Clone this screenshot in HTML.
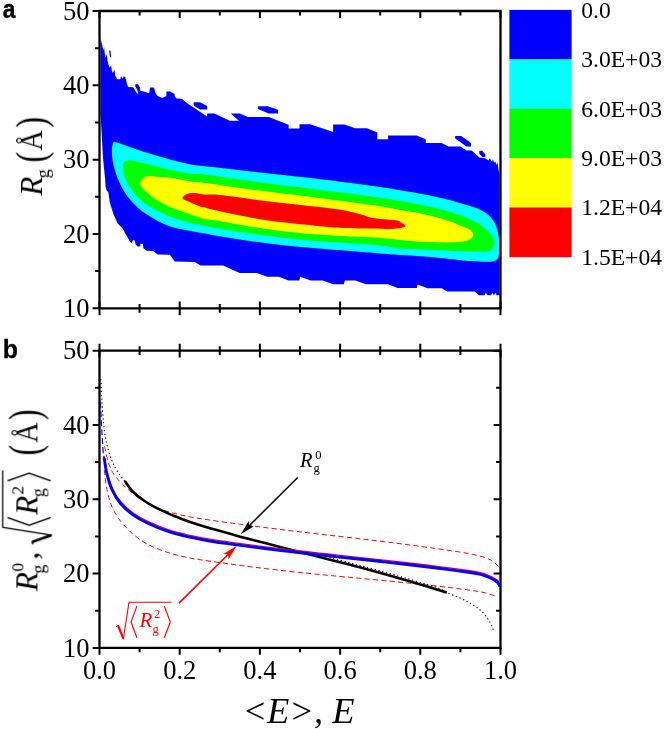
<!DOCTYPE html>
<html><head><meta charset="utf-8"><title>fig</title>
<style>
html,body{margin:0;padding:0;background:#fff;}
svg{display:block;}
text{font-family:"Liberation Serif",serif;fill:#000;}
.sans{font-family:"Liberation Sans",sans-serif;font-weight:bold;}
.it{font-style:italic;}
</style></head><body>
<svg width="664" height="729" viewBox="0 0 664 729">
<rect width="664" height="729" fill="#fff"/>

<g>
<path d="M100.5,37.5L101.2,41.0L102.4,45.8L103.3,50.5L104.1,47.0L104.9,54.5L105.7,58.0L106.8,54.1L107.5,60.5L108.4,64.5L109.6,67.5L111.2,65.6L111.8,70.5L112.8,73.0L114.5,69.4L115.2,75.5L117.2,79.3L120.3,79.3L121.1,76.0L122.7,78.7L123.8,76.0L125.4,77.6L127.1,84.2L128.2,87.0L133.1,87.3L137.5,94.1L140.2,90.8L143.8,91.5L149.2,93.3L150.0,87.5L154.0,87.5L155.6,93.3L157.4,96.0L161.9,97.8L163.0,97.8L166.4,96.0L166.4,91.5L170.0,91.5L174.6,94.0L174.6,96.0L176.4,98.4L181.8,98.7L187.2,103.2L207.1,116.4L207.1,113.5L214.5,113.5L229.8,120.7L238.9,120.7L230.7,113.5L239.8,113.5L247.9,117.1L268.7,117.1L288.6,124.8L288.6,128.5L299.5,128.5L299.5,124.3L310.3,124.3L333.1,132.0L333.1,124.4L344.4,124.4L355.2,128.3L367.0,128.3L377.3,132.5L377.3,139.2L388.1,139.2L388.1,135.6L416.7,135.6L425.7,139.2L425.7,143.0L441.6,143.1L448.4,146.6L460.5,146.6L466.5,150.4L471.7,150.4L479.3,157.4L485.3,158.2L488.3,160.5L489.8,158.2L492.1,162.0L492.8,159.0L494.3,162.7L495.1,161.2L496.6,165.0L497.4,162.0L498.9,171.7L499.5,172.0L499.5,295.3L496.6,295.3L495.5,292.7L494.0,295.3L492.2,292.7L491.1,295.3L487.8,295.3L485.6,292.7L484.5,295.3L479.0,295.3L474.6,291.6L447.2,291.6L441.7,288.3L427.4,288.3L417.6,284.4L416.8,288.1L397.6,288.1L388.0,284.2L365.9,284.2L355.3,280.4L344.8,280.4L343.8,284.2L333.2,284.2L322.7,280.4L310.6,280.6L300.0,276.7L299.5,280.6L288.5,280.6L278.9,276.7L267.4,276.7L256.8,272.9L239.6,272.9L223.2,265.6L205.0,265.6L200.6,265.4L194.8,262.1L174.7,261.5L169.9,254.8L157.7,254.4L153.1,250.9L146.4,250.7L143.3,247.9L142.8,243.8L140.4,243.8L140.2,246.4L137.6,246.4L135.6,244.3L134.5,240.2L133.0,240.2L131.4,243.3L128.9,239.7L125.3,233.5L122.7,228.4L117.5,223.2L113.4,214.0L109.8,202.6L108.3,192.3L106.5,190.3L105.5,186.0L105.2,180.0L104.2,170.0L103.0,158.0L102.0,140.0L100.5,113.0Z" fill="#0000ff"/>
<path d="M135.3,84.2L138.0,84.2L140.0,87.5L140.2,91.0L138.4,93.3L137.3,90.0L135.3,86.5Z" fill="#0000ff"/>
<path d="M109.0,50.4L110.4,50.4L111.2,57.3L110.1,57.3Z" fill="#0000ff"/>
<path d="M193.6,102.3L200.0,102.3L207.1,106.0L207.1,109.6L200.0,109.6L193.6,105.5Z" fill="#0000ff"/>
<path d="M257.9,106.2L267.8,106.2L278.1,109.8L278.1,113.5L268.7,113.5L257.9,108.9Z" fill="#0000ff"/>
<path d="M455.2,135.9L461.2,135.9L471.0,143.1L471.0,146.6L466.5,146.6L455.2,138.6Z" fill="#0000ff"/>
<path d="M479.3,150.7L482.3,150.7L485.3,154.4L485.3,157.0L482.3,157.0L479.3,153.7Z" fill="#0000ff"/>
</g>
<path d="M115.2,141.9C116.3,142.0 117.0,142.4 120.0,143.4C123.0,144.4 128.0,146.3 133.4,148.2C138.8,150.1 146.2,152.6 152.6,154.6C159.0,156.6 165.4,158.4 171.8,160.0C178.2,161.6 185.5,163.4 191.0,164.4C196.5,165.4 192.7,164.8 205.0,166.2C217.3,167.6 246.7,170.9 265.0,173.0C283.3,175.1 296.7,176.4 315.0,178.6C333.3,180.8 360.8,184.4 375.0,186.3C389.2,188.2 392.2,188.9 400.0,190.2C407.8,191.5 414.7,192.5 422.0,193.9C429.3,195.3 437.4,197.0 443.9,198.6C450.4,200.2 456.0,201.9 461.2,203.4C466.4,204.9 470.8,206.0 474.9,207.6C479.0,209.2 482.8,211.0 485.8,213.0C488.8,215.0 490.9,217.3 492.7,219.8C494.5,222.3 495.8,225.0 496.8,228.0C497.8,231.0 498.5,234.2 498.9,237.6C499.3,241.0 499.4,245.3 499.3,248.6C499.2,251.9 499.1,255.4 498.2,257.5C497.3,259.6 496.2,260.2 494.1,260.9C492.0,261.6 490.5,261.7 485.8,261.7C481.1,261.7 472.9,261.3 465.9,260.7C458.9,260.1 451.2,259.1 443.9,258.3C436.6,257.6 429.3,256.8 422.0,256.2C414.7,255.6 407.8,255.4 400.0,254.9C392.2,254.4 389.2,254.0 375.0,252.9C360.8,251.8 333.3,249.9 315.0,248.3C296.7,246.7 281.7,245.2 265.0,243.1C248.3,241.0 225.0,237.1 215.0,235.5C205.0,233.9 209.0,234.2 205.0,233.5C201.0,232.8 196.5,232.1 191.0,231.0C185.5,229.9 177.6,228.8 171.8,227.0C166.0,225.2 161.5,222.9 156.4,220.2C151.3,217.5 145.6,214.1 141.1,210.6C136.6,207.1 132.8,202.9 129.6,199.1C126.4,195.3 124.2,191.8 121.9,187.6C119.7,183.4 117.6,178.7 116.1,174.2C114.6,169.7 113.4,164.9 112.7,160.7C112.0,156.5 111.8,152.1 111.9,149.2C112.0,146.3 112.7,144.3 113.2,143.1C113.8,141.9 114.1,141.8 115.2,141.9Z" fill="#00ffff"/>
<path d="M125.7,161.1C127.4,160.4 129.6,160.1 133.4,160.7C137.2,161.3 142.4,163.0 148.8,164.6C155.2,166.2 164.8,168.8 171.8,170.3C178.8,171.8 185.5,173.1 191.0,173.8C196.5,174.5 192.7,173.1 205.0,174.6C217.3,176.1 246.7,180.6 265.0,183.0C283.3,185.4 296.7,186.9 315.0,189.2C333.3,191.5 360.8,194.9 375.0,196.9C389.2,198.9 392.2,199.6 400.0,200.9C407.8,202.2 414.7,203.4 422.0,204.9C429.3,206.4 437.4,208.4 443.9,210.2C450.4,212.0 456.0,213.8 461.2,215.7C466.4,217.6 471.0,219.3 474.9,221.4C478.8,223.5 481.8,225.8 484.5,228.0C487.2,230.2 489.7,232.6 491.3,234.9C492.9,237.2 493.9,239.5 494.1,241.7C494.3,243.9 493.9,246.4 492.7,248.0C491.5,249.6 491.7,250.7 487.2,251.3C482.7,251.9 473.1,251.5 465.9,251.4C458.7,251.3 451.2,250.8 443.9,250.5C436.6,250.2 429.3,249.8 422.0,249.4C414.7,249.1 407.8,249.2 400.0,248.4C392.2,247.7 389.2,246.1 375.0,244.9C360.8,243.7 333.3,242.6 315.0,241.0C296.7,239.4 281.7,237.6 265.0,235.4C248.3,233.2 225.0,229.5 215.0,227.9C205.0,226.3 209.0,226.6 205.0,225.8C201.0,225.0 196.5,224.5 191.0,223.1C185.5,221.7 177.6,219.5 171.8,217.4C166.0,215.3 161.2,213.2 156.4,210.6C151.6,208.0 146.8,205.0 143.0,202.0C139.2,199.0 136.1,195.8 133.4,192.4C130.7,189.0 128.4,185.2 126.7,181.8C125.0,178.4 124.0,175.1 123.4,172.2C122.9,169.3 123.0,166.4 123.4,164.6C123.8,162.8 124.0,161.8 125.7,161.1Z" fill="#00ff00"/>
<path d="M144.9,176.7C147.0,175.8 150.3,176.0 152.6,176.1C154.8,176.2 155.2,176.7 158.4,177.0C161.6,177.3 166.4,177.2 171.8,178.0C177.2,178.8 185.5,180.7 191.0,181.5C196.5,182.3 192.7,181.4 205.0,183.0C217.3,184.6 246.7,188.9 265.0,191.3C283.3,193.7 296.7,195.1 315.0,197.5C333.3,199.9 360.8,203.4 375.0,205.5C389.2,207.6 392.2,208.6 400.0,210.0C407.8,211.4 414.1,212.0 422.0,213.7C429.9,215.4 440.9,218.3 447.4,220.4C453.9,222.5 457.5,224.5 461.2,226.0C464.9,227.5 467.5,228.3 469.4,229.4C471.3,230.5 472.2,231.7 472.8,232.8C473.4,233.9 473.6,235.0 472.9,236.2C472.1,237.4 470.7,239.2 468.3,240.2C465.9,241.2 462.5,241.6 458.4,242.0C454.3,242.4 450.0,242.4 443.9,242.4C437.8,242.4 429.3,242.2 422.0,241.8C414.7,241.4 407.8,240.7 400.0,240.0C392.2,239.3 389.2,238.5 375.0,237.6C360.8,236.7 333.3,235.8 315.0,234.3C296.7,232.8 281.7,231.0 265.0,228.7C248.3,226.3 225.0,221.8 215.0,220.2C205.0,218.6 209.0,220.0 205.0,219.1C201.0,218.2 196.5,216.4 191.0,214.5C185.5,212.6 177.2,210.1 171.8,207.8C166.4,205.6 162.6,203.6 158.4,201.0C154.2,198.4 149.9,195.1 146.8,192.4C143.8,189.7 141.2,186.5 140.1,184.7C139.0,182.9 139.3,183.1 140.1,181.8C140.9,180.5 142.8,177.6 144.9,176.7Z" fill="#ffff00"/>
<path d="M182.4,198.2C182.4,197.0 185.1,194.6 187.2,193.7C189.3,192.8 191.8,192.9 194.8,193.0C197.8,193.1 201.6,194.2 205.0,194.5C208.4,194.8 209.2,194.1 215.0,194.6C220.8,195.1 231.7,196.4 240.0,197.5C248.3,198.6 252.5,199.4 265.0,200.9C277.5,202.4 301.9,204.9 315.0,206.5C328.1,208.1 335.8,208.9 343.8,210.3C351.8,211.7 358.2,213.8 363.0,215.1C367.8,216.4 367.2,217.1 372.6,218.0C378.0,218.9 390.8,219.5 395.6,220.3C400.4,221.1 399.8,221.8 401.4,222.8C403.0,223.9 406.8,225.6 405.2,226.6C403.6,227.6 397.2,228.8 391.8,229.1C386.4,229.4 380.6,228.8 372.6,228.6C364.6,228.4 353.4,228.5 343.8,228.0C334.2,227.5 328.1,227.0 315.0,225.7C301.9,224.4 281.7,222.7 265.0,220.1C248.3,217.5 225.0,212.4 215.0,210.3C205.0,208.2 207.4,208.2 205.0,207.6C202.6,207.0 203.6,207.9 200.6,206.8C197.6,205.7 190.2,202.4 187.2,201.0C184.2,199.6 182.4,199.4 182.4,198.2Z" fill="#ff0000"/>
<g stroke="#000" stroke-width="2.3" fill="none" stroke-linecap="butt">
<path d="M98.3,11.0H501.6 M98.3,308.3H501.6 M99.5,11.0V308.3 M500.5,11.0V308.3"/>
<path d="M99.5,11.0v6.9M99.5,301.4v13.8M139.6,11.0v4.4M139.6,303.9v8.8M179.7,11.0v6.9M179.7,301.4v13.8M219.8,11.0v4.4M219.8,303.9v8.8M259.9,11.0v6.9M259.9,301.4v13.8M300.0,11.0v4.4M300.0,303.9v8.8M340.1,11.0v6.9M340.1,301.4v13.8M380.2,11.0v4.4M380.2,303.9v8.8M420.3,11.0v6.9M420.3,301.4v13.8M460.4,11.0v4.4M460.4,303.9v8.8M500.5,11.0v6.9M500.5,301.4v13.8M99.5,308.3h-6.9M99.5,271.1h-4.4M99.5,234.0h-6.9M99.5,196.8h-4.4M99.5,159.7h-6.9M99.5,122.5h-4.4M99.5,85.3h-6.9M99.5,48.2h-4.4M99.5,11.0h-6.9" stroke-width="2"/>
<path d="M98.3,350.7H501.6 M98.3,647.9H501.6 M99.5,350.7V647.9 M500.5,350.7V647.9"/>
<path d="M99.5,343.8v13.8M99.5,647.9v6.9M139.6,346.3v8.8M139.6,647.9v4.4M179.7,343.8v13.8M179.7,647.9v6.9M219.8,346.3v8.8M219.8,647.9v4.4M259.9,343.8v13.8M259.9,647.9v6.9M300.0,346.3v8.8M300.0,647.9v4.4M340.1,343.8v13.8M340.1,647.9v6.9M380.2,346.3v8.8M380.2,647.9v4.4M420.3,343.8v13.8M420.3,647.9v6.9M460.4,346.3v8.8M460.4,647.9v4.4M500.5,343.8v13.8M500.5,647.9v6.9M99.5,647.9h-6.9M500.5,647.9h-6.9M99.5,610.8h-4.4M500.5,610.8h-4.4M99.5,573.6h-6.9M500.5,573.6h-6.9M99.5,536.4h-4.4M500.5,536.4h-4.4M99.5,499.3h-6.9M500.5,499.3h-6.9M99.5,462.1h-4.4M500.5,462.1h-4.4M99.5,425.0h-6.9M500.5,425.0h-6.9M99.5,387.8h-4.4M500.5,387.8h-4.4M99.5,350.7h-6.9M500.5,350.7h-6.9" stroke-width="2"/>
</g>
<rect x="509.4" y="9.9" width="62.2" height="49.7" fill="#0000ff"/>
<rect x="509.4" y="59.3" width="62.2" height="49.7" fill="#00ffff"/>
<rect x="509.4" y="108.7" width="62.2" height="49.7" fill="#00ff00"/>
<rect x="509.4" y="158.1" width="62.2" height="49.7" fill="#ffff00"/>
<rect x="509.4" y="207.5" width="62.2" height="49.7" fill="#ff0000"/>
<g opacity="0.999">
<text x="581.2" y="17.8" font-size="23.6">0.0</text>
<text x="581.2" y="67.2" font-size="23.6">3.0E+03</text>
<text x="581.2" y="116.6" font-size="23.6">6.0E+03</text>
<text x="581.2" y="166.0" font-size="23.6">9.0E+03</text>
<text x="581.2" y="215.4" font-size="23.6">1.2E+04</text>
<text x="581.2" y="264.8" font-size="23.6">1.5E+04</text>
<text x="89.5" y="316.9" font-size="26.5" text-anchor="end">10</text>
<text x="89.5" y="656.5" font-size="26.5" text-anchor="end">10</text>
<text x="89.5" y="242.6" font-size="26.5" text-anchor="end">20</text>
<text x="89.5" y="582.2" font-size="26.5" text-anchor="end">20</text>
<text x="89.5" y="168.2" font-size="26.5" text-anchor="end">30</text>
<text x="89.5" y="507.9" font-size="26.5" text-anchor="end">30</text>
<text x="89.5" y="93.9" font-size="26.5" text-anchor="end">40</text>
<text x="89.5" y="433.6" font-size="26.5" text-anchor="end">40</text>
<text x="89.5" y="19.6" font-size="26.5" text-anchor="end">50</text>
<text x="89.5" y="359.3" font-size="26.5" text-anchor="end">50</text>
<text x="99.5" y="679" font-size="26.5" text-anchor="middle">0.0</text>
<text x="179.7" y="679" font-size="26.5" text-anchor="middle">0.2</text>
<text x="259.9" y="679" font-size="26.5" text-anchor="middle">0.4</text>
<text x="340.1" y="679" font-size="26.5" text-anchor="middle">0.6</text>
<text x="420.3" y="679" font-size="26.5" text-anchor="middle">0.8</text>
<text x="500.5" y="679" font-size="26.5" text-anchor="middle">1.0</text>
<text class="sans" transform="translate(2.8,17.7) scale(0.9,1)" font-size="25.3" stroke="#000" stroke-width="0.4">a</text>
<text class="sans" x="2.7" y="357.8" font-size="24.9" stroke="#000" stroke-width="0.3">b</text>
<text class="it" x="298.5" y="722.6" font-size="36.5" text-anchor="middle">&lt;E&gt;, E</text>
</g>
<g fill="none">
<path d="M104.6,446.4C105.1,448.7 106.7,456.4 107.7,460.0C108.7,463.6 109.5,465.6 110.5,468.0C111.5,470.4 112.0,471.8 114.0,474.5C116.0,477.2 118.5,480.5 122.4,484.2C126.3,487.9 132.3,493.4 137.2,496.9C142.1,500.4 146.6,502.8 151.9,505.3C157.2,507.8 162.5,510.0 168.8,511.9C175.2,513.8 183.0,515.5 190.0,516.9C197.0,518.3 203.5,519.1 211.0,520.2C218.5,521.3 228.5,522.7 235.0,523.6C241.5,524.5 244.7,524.9 250.0,525.6C255.3,526.3 260.7,527.0 267.0,527.8C273.3,528.6 281.0,529.5 288.0,530.4C295.0,531.2 302.0,532.1 309.0,532.9C316.0,533.7 323.0,534.5 330.0,535.3C337.0,536.1 344.7,537.0 351.0,537.7C357.3,538.4 362.2,539.0 368.0,539.7C373.8,540.4 379.5,541.1 386.0,541.9C392.5,542.7 400.0,543.7 407.0,544.6C414.0,545.5 421.0,546.4 428.0,547.4C435.0,548.4 442.0,549.3 449.0,550.4C456.0,551.5 464.0,552.6 470.0,553.8C476.0,555.0 481.1,556.2 485.0,557.6C488.9,559.0 491.3,560.4 493.6,562.0C495.9,563.6 498.0,566.2 498.9,567.0" stroke="#ff0000" stroke-width="1" stroke-dasharray="5.2,3.2"/>
<path d="M104.2,470.0C104.5,472.3 105.4,480.0 106.0,484.0C106.6,488.0 107.2,490.8 107.9,494.0C108.7,497.2 109.4,500.1 110.5,503.0C111.6,505.9 112.6,508.4 114.3,511.5C116.0,514.6 118.6,518.6 120.8,521.5C123.0,524.4 125.2,526.5 127.4,528.7C129.6,531.0 130.6,532.4 134.0,535.0C137.4,537.6 141.9,541.3 147.7,544.3C153.5,547.3 161.8,550.5 168.8,552.8C175.9,555.1 183.0,556.6 190.0,558.0C197.0,559.4 203.5,560.2 211.0,561.3C218.5,562.4 228.5,563.8 235.0,564.7C241.5,565.6 244.7,566.0 250.0,566.7C255.3,567.4 260.7,568.0 267.0,568.8C273.3,569.5 281.0,570.4 288.0,571.2C295.0,572.0 302.0,572.7 309.0,573.4C316.0,574.1 323.0,574.8 330.0,575.5C337.0,576.2 345.2,577.0 351.0,577.5C356.8,578.0 359.2,578.2 365.0,578.8C370.8,579.3 379.0,580.1 386.0,580.8C393.0,581.5 400.0,582.2 407.0,582.9C414.0,583.6 421.0,584.3 428.0,585.1C435.0,585.9 442.0,586.6 449.0,587.5C456.0,588.4 464.0,589.3 470.0,590.2C476.0,591.1 480.5,591.7 485.0,592.8C489.5,593.9 495.0,596.0 497.0,596.6" stroke="#ff0000" stroke-width="1" stroke-dasharray="5.2,3.2"/>
<path d="M100.8,379.2C101.0,382.4 101.2,391.0 101.7,398.4C102.2,405.8 102.8,416.0 103.6,423.4C104.4,430.8 105.0,436.2 106.5,442.6C108.0,449.0 110.0,456.4 112.3,461.8C114.5,467.2 117.8,471.9 120.0,475.2C122.2,478.5 124.8,480.8 125.7,481.9" stroke="#000" stroke-width="1.1" stroke-dasharray="1.3,2.6"/>
<path d="M318.0,554.6C320.0,555.1 326.7,556.9 330.0,557.7C333.3,558.5 334.5,558.7 338.0,559.6C341.5,560.5 346.5,561.8 351.0,563.0C355.5,564.2 359.2,565.1 365.0,566.7C370.8,568.3 379.0,570.5 386.0,572.5C393.0,574.5 400.0,576.5 407.0,578.5C414.0,580.5 422.5,583.1 428.0,584.8C433.5,586.5 436.9,587.5 440.0,588.8C443.1,590.1 443.5,591.1 446.8,592.6C450.1,594.1 456.0,596.2 459.9,598.0C463.8,599.8 466.9,601.2 470.4,603.3C473.9,605.4 477.8,607.7 481.0,610.7C484.2,613.7 487.2,617.7 489.4,621.2C491.6,624.7 493.2,630.0 494.0,631.8" stroke="#000" stroke-width="1.1" stroke-dasharray="1.3,2.6"/>
<path d="M100.4,402.2C100.6,406.0 101.2,418.4 101.5,425.0C101.8,431.6 102.2,436.5 102.5,442.0C102.8,447.5 103.4,455.2 103.6,457.9" stroke="#0000ff" stroke-width="1.2" stroke-dasharray="6,3"/>
<path d="M124.9,481.0C125.5,481.9 127.2,484.5 128.5,486.3C129.8,488.1 131.3,490.1 132.9,491.7C134.5,493.3 136.0,494.5 137.8,496.0C139.6,497.5 141.6,498.9 143.9,500.5C146.2,502.1 148.9,503.9 151.6,505.4C154.3,506.9 156.1,507.8 160.0,509.6C163.9,511.4 170.0,514.2 175.0,516.3C180.0,518.4 184.0,520.0 190.0,522.0C196.0,524.0 203.5,526.4 211.0,528.6C218.5,530.8 228.5,533.4 235.0,535.2C241.5,537.0 244.7,537.8 250.0,539.2C255.3,540.6 260.7,542.0 267.0,543.6C273.3,545.2 281.0,547.2 288.0,549.0C295.0,550.8 302.0,552.5 309.0,554.3C316.0,556.1 323.0,557.9 330.0,559.7C337.0,561.5 345.2,563.6 351.0,565.1C356.8,566.6 359.2,567.2 365.0,568.8C370.8,570.4 379.0,572.6 386.0,574.6C393.0,576.6 400.0,578.6 407.0,580.6C414.0,582.6 421.4,584.8 428.0,586.8C434.6,588.8 443.7,591.6 446.8,592.6" stroke="#000" stroke-width="2.6"/>
<path d="M103.6,457.9C103.8,458.2 104.0,457.5 104.5,460.0C105.0,462.5 105.4,467.8 106.6,472.7C107.8,477.6 109.6,484.4 111.9,489.5C114.2,494.6 116.8,499.0 120.3,503.2C123.8,507.4 128.4,511.5 133.0,514.8C137.6,518.1 141.7,520.4 147.7,523.2C153.7,526.0 161.8,529.4 168.8,531.7C175.8,534.0 182.9,535.6 189.9,537.2C196.9,538.8 203.5,540.0 211.0,541.2C218.5,542.4 228.5,543.7 235.0,544.6C241.5,545.5 244.7,545.9 250.0,546.6C255.3,547.3 260.7,548.0 267.0,548.8C273.3,549.6 281.0,550.5 288.0,551.3C295.0,552.1 302.0,552.9 309.0,553.7C316.0,554.5 323.0,555.2 330.0,556.0C337.0,556.8 345.2,557.7 351.0,558.3C356.8,558.9 359.2,559.2 365.0,559.8C370.8,560.4 379.0,561.3 386.0,562.1C393.0,562.9 400.0,563.7 407.0,564.5C414.0,565.3 421.0,566.1 428.0,567.0C435.0,567.9 442.0,568.7 449.0,569.6C456.0,570.5 465.1,571.8 470.0,572.5C474.9,573.2 475.4,573.3 478.2,573.9C480.9,574.5 484.0,575.4 486.5,576.3C489.0,577.2 491.2,578.2 493.0,579.2C494.8,580.2 496.2,581.2 497.2,582.1C498.2,583.0 498.8,583.9 499.2,584.6C499.6,585.3 499.7,586.2 499.8,586.5" stroke="#ff0000" stroke-width="1.3" transform="translate(0.2,-1.75)"/>
<path d="M103.6,457.9C103.8,458.2 104.0,457.5 104.5,460.0C105.0,462.5 105.4,467.8 106.6,472.7C107.8,477.6 109.6,484.4 111.9,489.5C114.2,494.6 116.8,499.0 120.3,503.2C123.8,507.4 128.4,511.5 133.0,514.8C137.6,518.1 141.7,520.4 147.7,523.2C153.7,526.0 161.8,529.4 168.8,531.7C175.8,534.0 182.9,535.6 189.9,537.2C196.9,538.8 203.5,540.0 211.0,541.2C218.5,542.4 228.5,543.7 235.0,544.6C241.5,545.5 244.7,545.9 250.0,546.6C255.3,547.3 260.7,548.0 267.0,548.8C273.3,549.6 281.0,550.5 288.0,551.3C295.0,552.1 302.0,552.9 309.0,553.7C316.0,554.5 323.0,555.2 330.0,556.0C337.0,556.8 345.2,557.7 351.0,558.3C356.8,558.9 359.2,559.2 365.0,559.8C370.8,560.4 379.0,561.3 386.0,562.1C393.0,562.9 400.0,563.7 407.0,564.5C414.0,565.3 421.0,566.1 428.0,567.0C435.0,567.9 442.0,568.7 449.0,569.6C456.0,570.5 465.1,571.8 470.0,572.5C474.9,573.2 475.4,573.3 478.2,573.9C480.9,574.5 484.0,575.4 486.5,576.3C489.0,577.2 491.2,578.2 493.0,579.2C494.8,580.2 496.2,581.2 497.2,582.1C498.2,583.0 498.8,583.9 499.2,584.6C499.6,585.3 499.7,586.2 499.8,586.5" stroke="#0000ff" stroke-width="2.9"/>
</g>
<line x1="297.7" y1="477.5" x2="249.2" y2="525.7" stroke="#000" stroke-width="1.6"/><path d="M240.7,534.2L248.7,521.0L249.2,525.7L253.9,526.2Z" fill="#000"/>
<line x1="179.0" y1="603.1" x2="228.1" y2="554.5" stroke="#ff0000" stroke-width="1.6"/><path d="M236.6,546.1L228.5,559.3L228.1,554.5L223.3,554.0Z" fill="#ff0000"/>
<g opacity="0.999">
<text class="it" x="300" y="467.4" font-size="20.5">R</text>
<text x="313.6" y="472.3" font-size="12.5">g</text>
<text x="315.3" y="459" font-size="12.5">0</text>
<text class="it" x="139.6" y="627.2" font-size="21" style="fill:#f00">R</text>
<text x="152.4" y="632.6" font-size="12.5" style="fill:#f00">g</text>
<text x="154" y="617.7" font-size="12.5" style="fill:#f00">2</text>
</g>
<g fill="none" stroke="#ff0000">
<path d="M115.8,626.8L118,625.4" stroke-width="1"/>
<path d="M118,625.4L123.3,638.6" stroke-width="2.2"/>
<path d="M123.3,639.3L129,602.2H171.7" stroke-width="1.1"/>
<path d="M136.9,606.1L131.1,621.9L136.9,637.7M164.3,606.1L170.3,621.9L164.3,637.7" stroke-width="1.2"/>
</g>
<g opacity="0.999" transform="translate(42,195.7) rotate(-90)"><text class="it" x="0" y="0" font-size="31.2">R</text><text x="17.4" y="7.2" font-size="18">g</text><text x="0" y="0" font-size="30" transform="translate(33.2,2.8) scale(1.05,1.43)">(</text><text x="0" y="0" font-size="29.6" transform="translate(45.3,0) scale(0.95,1.05)">Å</text><text x="0" y="0" font-size="30" transform="translate(68.3,2.8) scale(1.05,1.43)">)</text></g>
<g opacity="0.999" transform="translate(37.4,591.2) rotate(-90)"><text class="it" x="0" y="0" font-size="31.4">R</text><text x="17.5" y="7" font-size="18">g</text><text x="19.4" y="-13.7" font-size="17.5">0</text><text x="31.5" y="0" font-size="32">,</text><g fill="none" stroke="#000"><path d="M46.8,-4.3L49.2,-5.8" stroke-width="1.2"/><path d="M49.2,-5.4L56,14" stroke-width="2.7"/><path d="M56,14.6L63.8,-34.7H120.8" stroke-width="1.3"/><path d="M73.6,-29.7L65.9,-8.3L73.6,13.3M110.4,-29.7L118,-8.3L110.4,13.3" stroke-width="1.4"/></g><text class="it" x="76.3" y="0" font-size="31.4">R</text><text x="94" y="6.5" font-size="18">g</text><text x="96.5" y="-13.8" font-size="17.5">2</text><text x="0" y="0" font-size="30" transform="translate(135.7,2.3) scale(1.05,1.49)">(</text><text x="0" y="0" font-size="29.6" transform="translate(148.4,0) scale(0.95,1.05)">Å</text><text x="0" y="0" font-size="30" transform="translate(171.2,2.3) scale(1.05,1.49)">)</text></g>
</svg></body></html>
